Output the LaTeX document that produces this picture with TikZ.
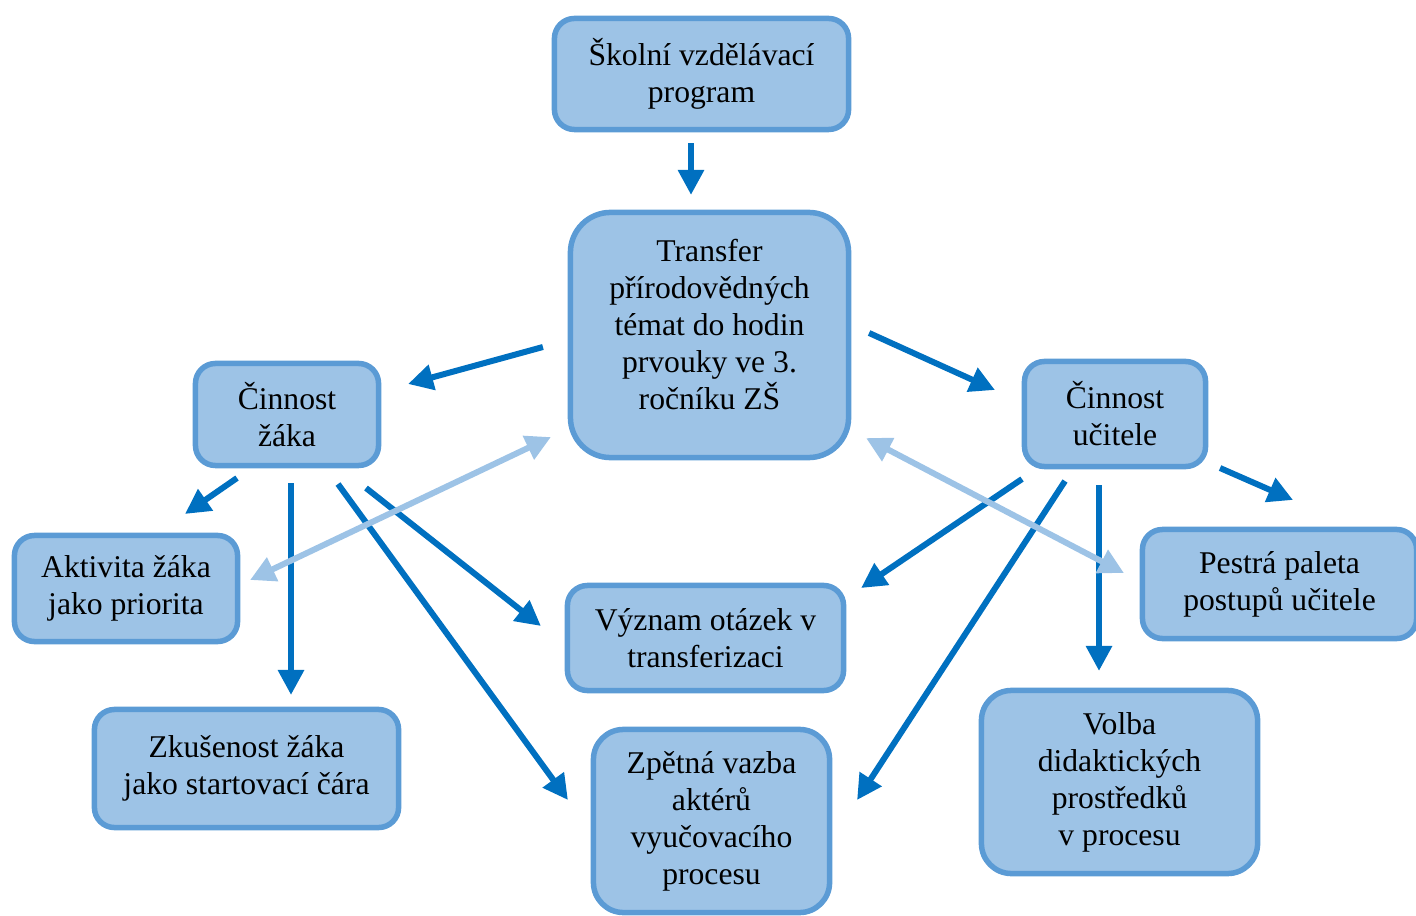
\documentclass[tikz,border=0pt]{standalone}
\usepackage{fontspec}
\setmainfont{Liberation Serif}
\usetikzlibrary{arrows.meta,calc}

\definecolor{boxfill}{HTML}{9DC3E6}
\definecolor{boxline}{HTML}{5B9BD5}
\definecolor{arrdark}{HTML}{0070C0}
\definecolor{arrlight}{HTML}{9DC3E6}

\tikzset{
  box/.style={draw=boxline, fill=boxfill, line width=0.055cm, rounded corners=0.2cm,
    align=center, inner sep=0pt, outer sep=0pt,
    font=\fontsize{9}{10.5}\selectfont},
  arr/.style={draw=arrdark, line width=0.06cm, -{Triangle[length=0.25cm,width=0.25cm]}},
  arrboth/.style={draw=arrlight, line width=0.06cm,
    {Triangle[length=0.25cm,width=0.25cm]}-{Triangle[length=0.25cm,width=0.25cm]}}
}

\begin{document}
\begin{tikzpicture}[x=0.01cm, y=-0.01cm]
        \useasboundingbox (0,0) rectangle (1416,916);
        % uzly
        \node [box, minimum width=2.94cm, minimum height=1.11cm] (skola) at (701.5,74) {Školní vzdělávací\\program};
        \node [box, minimum width=2.78cm, minimum height=2.45cm, rounded corners=0.4cm] (transfer) at (709.5,335) {Transfer\\přírodovědných\\témat do hodin\\prvouky ve 3.\\ročníku ZŠ\\[-0.15cm]};
        \node [box, minimum width=1.83cm, minimum height=1.02cm] (zak) at (287,414.5) {Činnost\\žáka};
        \node [box, minimum width=1.81cm, minimum height=1.05cm] (ucitel) at (1115,414) {Činnost\\učitele};
        \node [box, minimum width=2.23cm, minimum height=1.06cm] (aktivita) at (126,588.5) {Aktivita žáka\\jako priorita};
        \node [box, minimum width=3.04cm, minimum height=1.18cm] (zkusenost) at (246.5,768.5) {Zkušenost žáka\\jako startovací čára};
        \node [box, minimum width=2.76cm, minimum height=1.05cm] (vyznam) at (705.5,638) {Význam otázek v\\transferizaci};
        \node [box, minimum width=2.36cm, minimum height=1.83cm, rounded corners=0.3cm] (zpetna) at (711.5,821) {Zpětná vazba\\aktérů\\vyučovacího\\procesu};
        \node [box, minimum width=2.76cm, minimum height=1.83cm, rounded corners=0.3cm] (volba) at (1119.5,782) {Volba\\didaktických\\prostředků\\v procesu};
        \node [box, minimum width=2.74cm, minimum height=1.09cm] (pestra) at (1279.5,584) {Pestrá paleta\\postupů učitele};
        % sipky
        \draw [arr] ($(skola.south)+(-10.5,13.5)$) -- ($(transfer.north)+(-18.5,-17.5)$);
        \draw [arr] ($(transfer.west)+(-27.5,12)$) -- ($(zak.east)+(29.5,-30.5)$);
        \draw [arr] ($(transfer.east)+(20.5,-2)$) -- ($(ucitel.west)+(-29.5,-24)$);
        \draw [arr] ($(zak.south)+(-50,12.5)$) -- ($(aktivita.north)+(59,-21.5)$);
        \draw [arr] ($(zak.south)+(4,17.5)$) -- ($(zkusenost.north)+(44.5,-14.5)$);
        \draw [arr] ($(zak.south)+(51,18.5)$) -- ($(zpetna.west)+(-25.5,-21)$);
        \draw [arr] ($(zak.south)+(79,22.5)$) -- ($(vyznam.west)+(-26.5,-12)$);
        \draw [arr] ($(ucitel.south)+(-93,12.5)$) -- ($(vyznam.east)+(17.5,-50)$);
        \draw [arr] ($(ucitel.south)+(-50,14.5)$) -- ($(zpetna.east)+(27.5,-21)$);
        \draw [arr] ($(ucitel.south)+(-16,18.5)$) -- ($(volba.north)+(-20.5,-19.5)$);
        \draw [arr] ($(ucitel.south east)+(14.5,1.5)$) -- ($(pestra.north)+(13.5,-29.5)$);
        % obousmerne
        \draw [arrboth] ($(aktivita.east)+(12.5,-8.5)$) -- ($(transfer.south west)+(-19.5,-20.5)$);
        \draw [arrboth] ($(transfer.south east)+(17.5,-19.5)$) -- ($(pestra.west)+(-18.5,-11)$);
    \end{tikzpicture}
\end{document}
